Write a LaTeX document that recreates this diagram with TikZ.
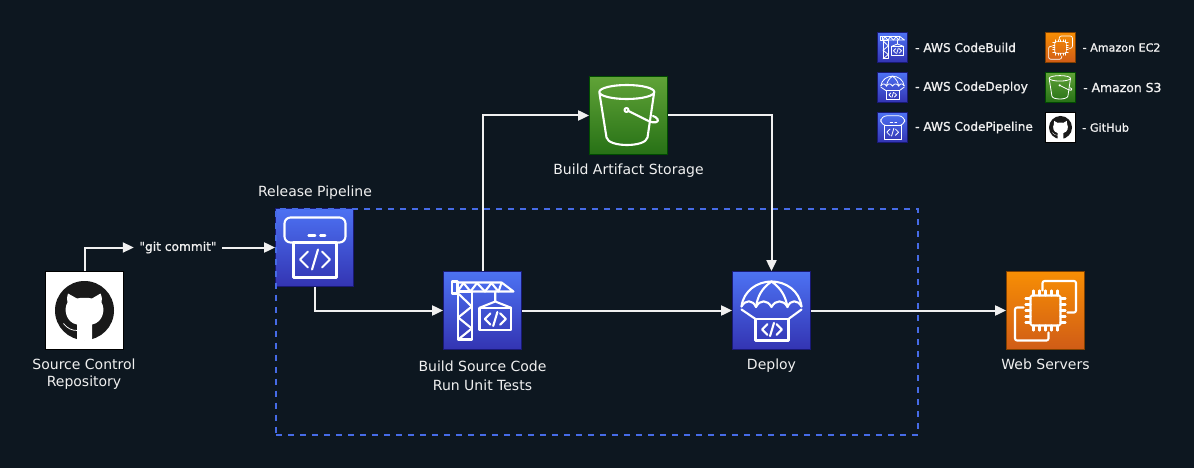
\documentclass[tikz,border=0pt]{standalone}
\usepackage{fontspec}
\setmainfont{DejaVu Sans}[Ligatures=TeXOff]
\newfontfamily\keyfont{DejaVu Sans}[Ligatures=TeXOff, FakeBold=1.2]
\usetikzlibrary{arrows.meta}

\definecolor{pagedark}{HTML}{0D1720}
\definecolor{areablue}{HTML}{466BE6}

\tikzset{
  iconbox/.style={inner sep=0pt, minimum size=#1, line width=.8pt},
  bluebox/.style={iconbox=#1, draw=blue!40!black!90, top color={rgb,255:red,77;green,114;blue,243}, bottom color={rgb,255:red,51;green,52;blue,178}},
  greenbox/.style={iconbox=#1, draw=green!30!black, top color={rgb,255:red,96;green,163;blue,55}, bottom color={rgb,255:red,39;green,113;blue,22}},
  orangebox/.style={iconbox=#1, draw=orange!50!black, top color={rgb,255:red,247;green,142;blue,4}, bottom color={rgb,255:red,208;green,92;blue,23}},
  whitebox/.style={iconbox=#1, draw=black, line width=1.6pt, fill=white},
  iconline/.style={draw=white, line join=round, line cap=round},
  flow/.style={draw=white!94!black, line width=2pt, -{Triangle[length=11pt,width=10pt]}},
  caption/.style={text=white!94!black, font=\fontsize{14}{17}\selectfont, align=center},
  legendtext/.style={text=white!94!black, anchor=west, inner sep=0pt, font=\keyfont\fontsize{#1}{13}\selectfont},
  pics/codemark/.style={code={
    \draw[iconline] (-7,-8) -- (-15,0) -- (-7,8);
    \draw[iconline] (7,-8) -- (15,0) -- (7,8);
    \draw[iconline] (3,-10) -- (-3,10);
  }},
  pics/pipelineicon/.style={code={
    \draw[iconline, rounded corners=6] (-30,-30) rectangle (31,-5);
    \draw[iconline] (-6,-12) -- (.7,-12) (5.7,-12) -- (10.7,-12);
    \draw[iconline] (-21,-5) rectangle (22,30);
    \pic[transform shape] at (.5,12) {codemark};
  }},
  pics/buildicon/.style={code={
    \draw[iconline] (-24.3,-19) rectangle (-10.7,29);
    \draw[iconline] (-24.3,-17) -- (-10.7,-4) -- (-24.3,7) -- (-10.7,18) -- (-24.3,29);
    \draw[iconline] (-30.7,-29) rectangle (-25,-17);
    \draw[iconline] (-25,-28) -- (19,-28) -- (31,-19) -- (-25,-19);
    \draw[iconline] (-25,-19) -- (-19,-27.5) -- (-12,-19) -- (-5.5,-27.5) -- (2.5,-19) -- (9,-27.5) -- (16,-19) -- (19,-27.5);
    \draw[iconline] (12.7,-19) -- (12.7,-9) -- (-3,-2.7) (12.7,-9) -- (28.7,-2.7);
    \draw[iconline] (-3,-2.7) rectangle (28.7,19.7);
    \pic[transform shape, scale=.7] at (12.8,8.5) {codemark};
  }},
  pics/deployicon/.style={code={
    \draw[iconline] (-30,-4) .. controls (-28,-20) and (-14,-29) .. (0,-29) .. controls (14,-29) and (28,-20) .. (30,-4);
    \draw[iconline] (-30,-4) .. controls (-26,-11) and (-19,-11) .. (-15.5,-3.5) .. controls (-12,-11) and (-4,-11) .. (0,-3.5) .. controls (4,-11) and (12,-11) .. (16,-3.5) .. controls (19,-11) and (26,-11) .. (30,-4);
    \draw[iconline] (0,-29) .. controls (-10,-22) and (-14,-14) .. (-15.5,-3.5);
    \draw[iconline] (0,-29) .. controls (10,-22) and (14,-14) .. (16,-3.5);
    \draw[iconline] (-30,-1) -- (-16,8.5) (30,-1) -- (17,8.5);
    \draw[iconline] (-16,8.5) rectangle (17,30);
    \pic[transform shape, scale=.66] at (.5,19) {codemark};
  }},
  pics/bucketicon/.style={code={
    \draw[iconline] (-1.7,-23.5) ellipse [x radius=27.5, y radius=7];
    \draw[iconline] (-29,-22) -- (-22,22) .. controls (-20,32) and (17,32) .. (19,22) -- (25.5,-22);
    \draw[iconline] (-2,-5.5) circle [radius=2];
    \draw[iconline] (0,-4.5) -- (19,5) .. controls (27,9) and (31,6) .. (29,3.5) .. controls (28,2) and (26,1) .. (24.5,.5);
  }},
  pics/servericon/.style={code={
    \draw[iconline, rounded corners=1.5] (-15,-15) rectangle (15,15);
    \foreach \p in {-12,-6,0,6,12} {
      \draw[iconline] (\p,-15) -- (\p,-20) (\p,15) -- (\p,20);
      \draw[iconline] (-15,\p) -- (-20,\p) (15,\p) -- (20,\p);
    }
    \draw[iconline, rounded corners=2] (-3,-20) -- (-3,-29.5) -- (30.5,-29.5) -- (30.5,2) -- (22,2);
    \draw[iconline, rounded corners=2] (-22,-3) -- (-30.5,-3) -- (-30.5,30) -- (3,30) -- (3,22);
  }},
  pics/octoicon/.style={code={
    \fill[black!90] (0,0) circle [radius=29.5];
    \fill[white] (-16.5,-17) -- (-7.5,-12) .. controls (-3,-13) and (3,-13) .. (7.5,-12) -- (16,-17)
      .. controls (17.5,-13) and (18,-11) .. (17,-8) .. controls (21,-2) and (19,12) .. (7.5,14)
      -- (7.5,30) -- (-7.5,30) -- (-7.5,14) .. controls (-19,12) and (-21,-2) .. (-17,-8)
      .. controls (-18,-11) and (-17.5,-13) .. (-16.5,-17) -- cycle;
    \draw[white, line width=.6*\pgflinewidth] (-21,13) .. controls (-17,18) and (-13,20) .. (-7,20);
  }}
}

\begin{document}
\begin{tikzpicture}[x=1pt, y=-1pt]
  \fill[pagedark] (0,0) rectangle (1194,468);
  \useasboundingbox (0,0) rectangle (1194,468);

  % Main icons
  \node[whitebox=78pt] (repo) at (84.5,310.5) {};
  \node[bluebox=78pt] (pipeline) at (314.5,247.5) {};
  \node[bluebox=78pt] (build) at (482.5,310.5) {};
  \node[greenbox=78pt] (bucket) at (628.5,115.5) {};
  \node[bluebox=78pt] (deploy) at (771.5,310.5) {};
  \node[orangebox=78pt] (servers) at (1045.5,310.5) {};
  \pic[line width=2.1pt] at (repo) {octoicon};
  \pic[line width=2.1pt] at (pipeline) {pipelineicon};
  \pic[line width=2.1pt] at (build) {buildicon};
  \pic[line width=2.1pt] at (bucket) {bucketicon};
  \pic[line width=2.1pt] at (deploy) {deployicon};
  \pic[line width=2.1pt] at (servers) {servericon};

  % Pipeline area
  \node[draw=areablue, line width=2pt, dash pattern=on 6pt off 6pt, minimum width=642pt, minimum height=226pt, inner sep=0pt] (area) at (597,321.5) {};

  % Labels
  \node[caption] (repolabel) at (84,374.5) {Source Control\\Repository};
  \node[caption] (pipelinelabel) at (315,193) {Release Pipeline};
  \node[caption] (buildlabel) at (482.5,375.5) {Build Source Code\\[2pt]Run Unit Tests};
  \node[caption] (bucketlabel) at (628.5,171) {Build Artifact Storage};
  \node[caption] (deploylabel) at (771.5,365.5) {Deploy};
  \node[caption] (serverslabel) at (1045.5,364) {Web Servers};
  \node[text=white!94!black, font=\keyfont\fontsize{12.2}{13}\selectfont, minimum width=88pt, inner sep=0pt] (commit) at (178,247.5) {"git commit"};

  % Draw edges with arrowheads
  \draw[flow] (repo.north) |- (commit.west);
  \draw[flow] (commit.east) -- (pipeline.west);
  \draw[flow] (pipeline.south) |- (build.west);
  \draw[flow] (build.north) |- (bucket.west);
  \draw[flow] (bucket.east) -| (deploy.north);
  \draw[flow] (build.east) -- (deploy.west);
  \draw[flow] (deploy.east) -- (servers.west);

  % Legend
  \node[bluebox=30pt] (keybuild) at (892.5,47.5) {};
  \node[bluebox=30pt] (keydeploy) at (892.5,87.5) {};
  \node[bluebox=30pt] (keypipeline) at (892.5,127.5) {};
  \node[orangebox=30pt] (keyservers) at (1060.5,47.5) {};
  \node[greenbox=30pt] (keybucket) at (1060.5,87.5) {};
  \node[whitebox=30pt] (keyrepo) at (1060.5,127.5) {};
  \pic[scale=.39, line width=.8pt] at (keybuild) {buildicon};
  \pic[scale=.39, line width=.8pt] at (keydeploy) {deployicon};
  \pic[scale=.39, line width=.8pt] at (keypipeline) {pipelineicon};
  \pic[scale=.39, line width=.7pt] at (keyservers) {servericon};
  \pic[scale=.39, line width=.8pt] at (keybucket) {bucketicon};
  \pic[scale=.39, line width=.8pt] at (keyrepo) {octoicon};
  \node[legendtext=12.1] (keybuildtext) at (915,47.5) {- AWS CodeBuild};
  \node[legendtext=12.1] (keydeploytext) at (915,87.5) {- AWS CodeDeploy};
  \node[legendtext=12.1] (keypipelinetext) at (915,127.5) {- AWS CodePipeline};
  \node[legendtext=11.1] (keyserverstext) at (1082.5,47.5) {- Amazon EC2};
  \node[legendtext=12.4] (keybuckettext) at (1083,87.5) {- Amazon S3};
  \node[legendtext=11.3] (keyrepotext) at (1082,127.5) {- GitHub};
\end{tikzpicture}
\end{document}
